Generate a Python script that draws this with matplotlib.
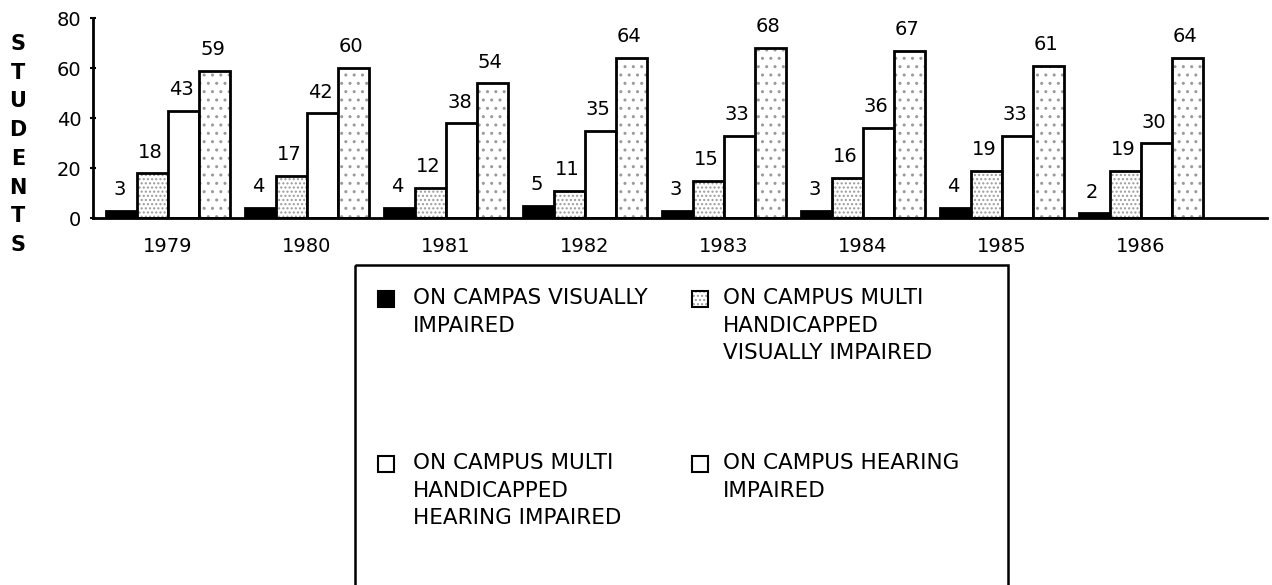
import matplotlib.pyplot as plt
from matplotlib.patches import Rectangle
from matplotlib.transforms import Affine2D
import numpy as np

years = ['1979', '1980', '1981', '1982', '1983', '1984', '1985', '1986']
visually_impaired = [3, 4, 4, 5, 3, 3, 4, 2]
multi_visually = [18, 17, 12, 11, 15, 16, 19, 19]
multi_hearing = [43, 42, 38, 35, 33, 36, 33, 30]
hearing_impaired = [59, 60, 54, 64, 68, 67, 61, 64]

labels = ['ON CAMPAS VISUALLY\nIMPAIRED',
          'ON CAMPUS MULTI\nHANDICAPPED\nVISUALLY IMPAIRED',
          'ON CAMPUS MULTI\nHANDICAPPED\nHEARING IMPAIRED',
          'ON CAMPUS HEARING\nIMPAIRED']

W, H = 1272, 585
fig = plt.figure(figsize=(W / 100, H / 100), dpi=100)
# pixel coordinates, origin at top left
px = Affine2D().scale(1 / W, -1 / H).translate(0, 1) + fig.transFigure

ax = fig.add_axes([93 / W, 1 - 218 / H, (1267 - 93) / W, 200 / H])

series = [visually_impaired, multi_visually, multi_hearing, hearing_impaired]
fills = ['black', 'white', 'white', 'white']
hatches = [None, '....', None, '..']
width = 0.223
x = np.arange(len(years))

for i, vals in enumerate(series):
    pos = x + (i - 1.5) * width
    ax.bar(pos, vals, width, color=fills[i], hatch=hatches[i],
           edgecolor='#9a9a9a', linewidth=0)
    ax.bar(pos, vals, width, fill=False, edgecolor='black', linewidth=2)
    for p, v in zip(pos, vals):
        ax.annotate(str(v), (p, v), xytext=(-2, 21), textcoords='offset pixels',
                    ha='center', va='center', fontsize=14)

ax.set_xlim(-0.54, 7.91)
ax.set_ylim(0, 80)
ax.set_yticks([0, 20, 40, 60, 80])
ax.set_xticks(x)
ax.set_xticklabels(years)
ax.tick_params(axis='y', direction='inout', length=5, width=1.5, labelsize=14, pad=6)
ax.tick_params(axis='x', length=0, labelsize=14, pad=14)
for s in ['top', 'right']:
    ax.spines[s].set_visible(False)
ax.spines['left'].set_linewidth(2)
ax.spines['bottom'].set_linewidth(2)

for i, ch in enumerate('STUDENTS'):
    fig.text(18, 44 + i * 28.7, ch, transform=px, ha='center', va='center',
             fontsize=15, fontweight='bold')

# legend box
fig.add_artist(Rectangle((355, 265), 653, 340, transform=px, fill=False,
                         edgecolor='black', linewidth=1.8, clip_on=False))
entries = [(386, 413, 299), (700, 723, 299), (386, 413, 464), (700, 723, 464)]
key_fills = ['black', 'white', 'white', 'white']
key_hatches = [None, '....', None, None]
for i, (sx, tx, ty) in enumerate(entries):
    fig.add_artist(Rectangle((sx - 8, ty - 8), 16, 16, transform=px,
                             facecolor=key_fills[i], hatch=key_hatches[i],
                             edgecolor='#9a9a9a', linewidth=0))
    fig.add_artist(Rectangle((sx - 8, ty - 8), 16, 16, transform=px, fill=False,
                             edgecolor='black', linewidth=1.5))
    fig.text(tx, ty - 11, labels[i], transform=px, ha='left', va='top',
             fontsize=15.5, linespacing=1.47)

fig.savefig('out.png', dpi=100)
